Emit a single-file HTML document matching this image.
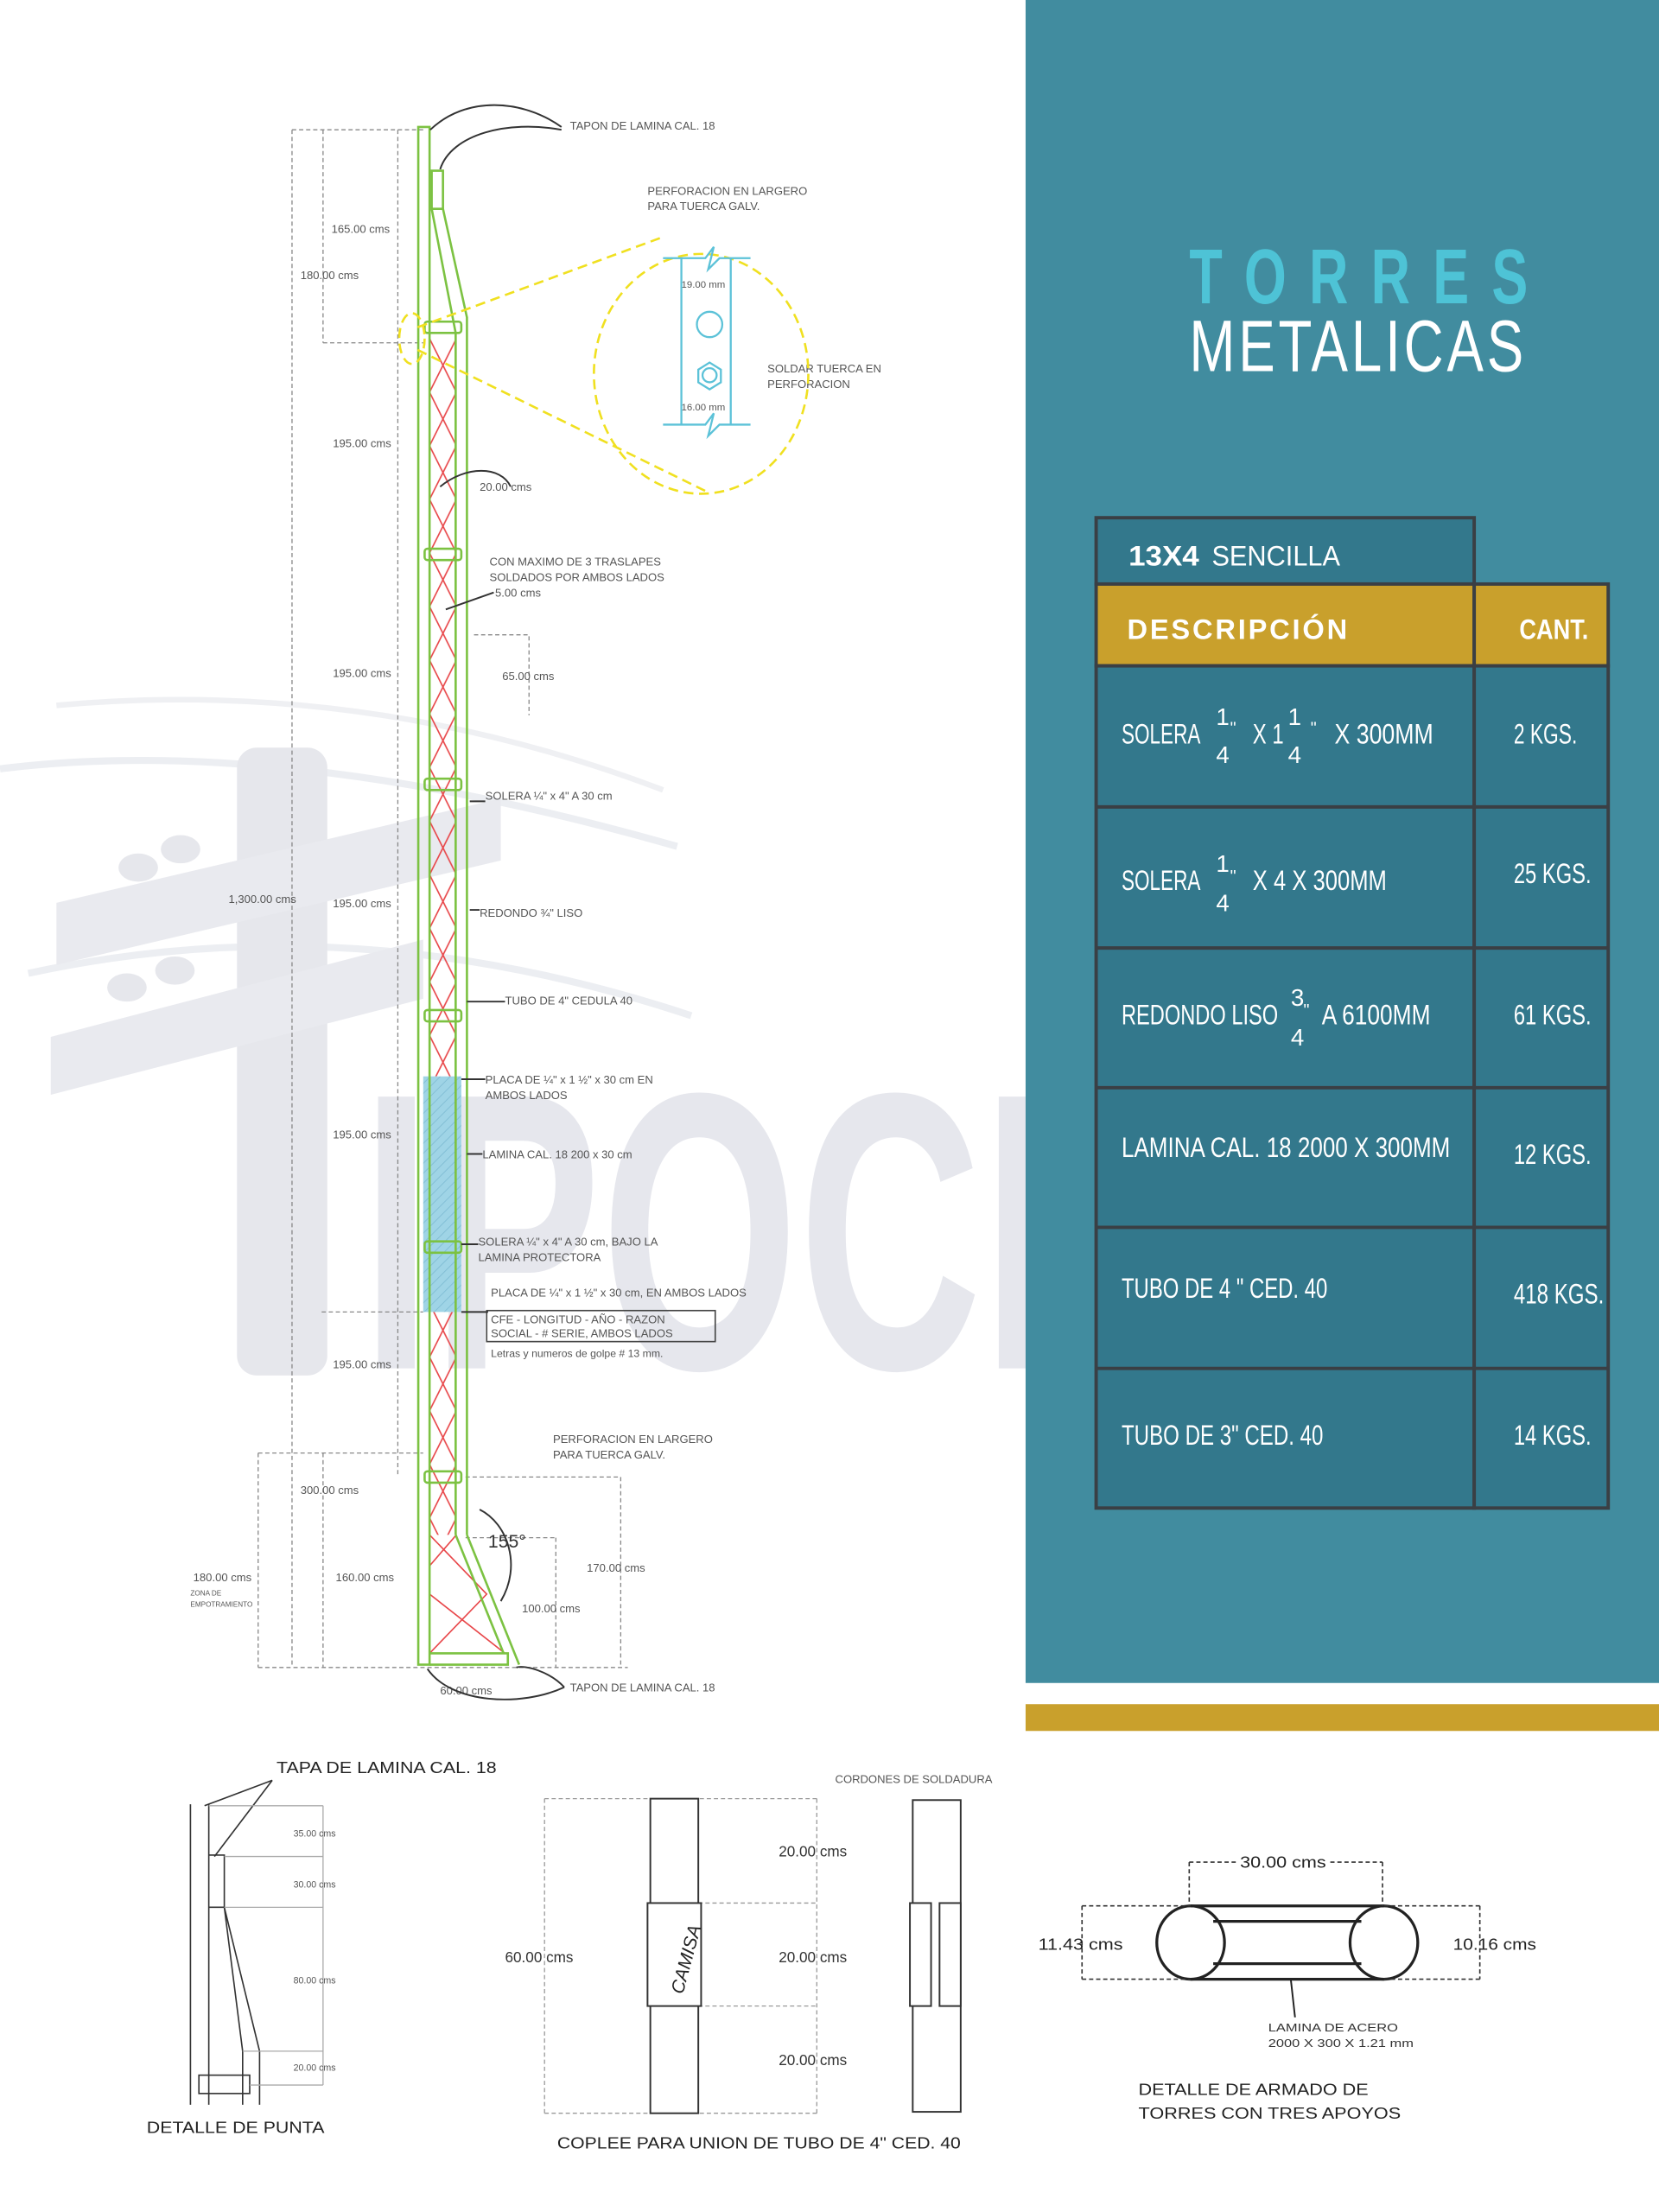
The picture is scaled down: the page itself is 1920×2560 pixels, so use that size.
<!DOCTYPE html>
<html><head><meta charset="utf-8"><style>
html,body{margin:0;padding:0;background:#fff}
svg{display:block}
.t{font-family:"Liberation Sans",sans-serif}
.n{font-family:"Liberation Sans",sans-serif;fill:#fff}
</style></head><body>
<svg width="1920" height="2560" viewBox="0 0 1176 1568" preserveAspectRatio="none" xmlns="http://www.w3.org/2000/svg">
<defs>
<pattern id="lace" patternUnits="userSpaceOnUse" x="304.5" y="240" width="19" height="38">
<path d="M0 0L19 38M19 0L0 38" stroke="#e8474a" stroke-width="1"/>
</pattern>
<pattern id="hatch" patternUnits="userSpaceOnUse" width="5" height="5" patternTransform="rotate(45)">
<rect width="5" height="5" fill="#9fd4e6"/><path d="M0 0V5" stroke="#7dbbd2" stroke-width="1"/>
</pattern>
</defs>
<rect width="1176" height="1568" fill="#fff"/>

<!-- watermark -->
<g fill="#e6e7ec">
<path d="M0 545 Q200 520 480 600" stroke="#eceef2" stroke-width="5" fill="none"/>
<path d="M20 690 Q250 640 490 720" stroke="#eceef2" stroke-width="5" fill="none"/>
<path d="M40 500 Q260 480 470 560" stroke="#eff0f3" stroke-width="4" fill="none"/>
<rect x="168" y="530" width="64" height="445" rx="14"/>
<polygon points="40,640 355,566 355,610 40,684" fill="#e9eaef"/>
<polygon points="36,735 300,666 300,708 36,776" fill="#e9eaef"/>
<ellipse cx="98" cy="615" rx="14" ry="10"/><ellipse cx="128" cy="602" rx="14" ry="10"/>
<ellipse cx="90" cy="700" rx="14" ry="10"/><ellipse cx="124" cy="688" rx="14" ry="10"/>
<text x="256" y="970" font-family="Liberation Sans,sans-serif" font-weight="bold" font-size="280" textLength="560" lengthAdjust="spacingAndGlyphs" fill="#e6e7ed">IPOCE</text>
</g>

<!-- dimension lines -->
<g stroke="#888" stroke-width="0.8" stroke-dasharray="3,2" fill="none">
<path d="M207 92V1182M229 92V243M282 92V1047M207 92H300M229 243H300"/>
<path d="M183 1030V1182M229 1030V1182M183 1030H300M183 1182H445"/>
<path d="M440 1047V1182M394 1090V1182M330 1047H440M330 1090H394"/>
<path d="M336 450H375V507"/>
<path d="M228 930H300"/>
</g>
<g class="t" fill="#555" font-size="8">
<text x="235" y="165">165.00 cms</text>
<text x="213" y="198">180.00 cms</text>
<text x="236" y="317">195.00 cms</text>
<text x="236" y="480">195.00 cms</text>
<text x="162" y="640">1,300.00 cms</text>
<text x="236" y="643">195.00 cms</text>
<text x="236" y="807">195.00 cms</text>
<text x="236" y="970">195.00 cms</text>
<text x="213" y="1059">300.00 cms</text>
<text x="137" y="1121">180.00 cms</text>
<text x="135" y="1131" font-size="5">ZONA DE</text>
<text x="135" y="1139" font-size="5">EMPOTRAMIENTO</text>
<text x="238" y="1121">160.00 cms</text>
<text x="416" y="1114">170.00 cms</text>
<text x="370" y="1143">100.00 cms</text>
<text x="312" y="1201">60.00 cms</text>
<text x="356" y="482">65.00 cms</text>
<text x="340" y="348">20.00 cms</text>
<text x="351" y="423">5.00 cms</text>
<text x="404" y="92">TAPON DE LAMINA CAL. 18</text>
<text x="459" y="138">PERFORACION EN LARGERO</text>
<text x="459" y="149">PARA TUERCA GALV.</text>
<text x="544" y="264">SOLDAR TUERCA EN</text>
<text x="544" y="275">PERFORACION</text>
<text x="483" y="204" font-size="7">19.00 mm</text>
<text x="483" y="291" font-size="7">16.00 mm</text>
<text x="347" y="401">CON MAXIMO DE 3 TRASLAPES</text>
<text x="347" y="412">SOLDADOS POR AMBOS LADOS</text>
<text x="344" y="567">SOLERA ¼" x 4"  A  30 cm</text>
<text x="340" y="650">REDONDO ¾" LISO</text>
<text x="358" y="712">TUBO DE 4" CEDULA 40</text>
<text x="344" y="768">PLACA DE ¼" x 1 ½" x 30 cm EN</text>
<text x="344" y="779">AMBOS LADOS</text>
<text x="342" y="821">LAMINA CAL. 18    200 x 30 cm</text>
<text x="339" y="883">SOLERA ¼" x 4"  A  30 cm, BAJO LA</text>
<text x="339" y="894">LAMINA PROTECTORA</text>
<text x="348" y="919">PLACA DE ¼" x 1 ½" x 30 cm, EN AMBOS LADOS</text>
<text x="348" y="938">CFE - LONGITUD - AÑO - RAZON</text>
<text x="348" y="948">SOCIAL - # SERIE, AMBOS LADOS</text>
<text x="348" y="962" font-size="7.5">Letras y numeros de golpe # 13 mm.</text>
<text x="392" y="1023">PERFORACION EN LARGERO</text>
<text x="392" y="1034">PARA TUERCA GALV.</text>
<text x="404" y="1199">TAPON DE LAMINA CAL. 18</text>
<text x="346" y="1097" font-size="13" fill="#333">155°</text>
</g>
<rect x="345" y="929" width="162" height="22" fill="none" stroke="#444" stroke-width="1"/>

<!-- tower -->
<rect x="304.5" y="240" width="19" height="523" fill="url(#lace)"/>
<rect x="304.5" y="930" width="19" height="158" fill="url(#lace)"/>
<g stroke="#e8474a" stroke-width="1" fill="none">
<path d="M304.5 1088L345 1130L304.5 1172M323.5 1088L304.5 1110M304.5 1130L358 1172"/>
</g>
<rect x="300" y="763" width="27" height="167" fill="url(#hatch)"/>
<g stroke="#7cc242" stroke-width="1.6" fill="none">
<rect x="296.5" y="90" width="8" height="1090"/>
<path d="M306 121V148H314V121Z"/>
<path d="M306 148L323 236V1088M314 148L331 225V1088"/>
<path d="M323 1088L357 1172M331 1088L368 1180"/>
<path d="M304.5 1172H360V1180H304.5"/>
<rect x="301" y="228" width="26" height="8" rx="2"/>
<rect x="301" y="389" width="26" height="8" rx="2"/>
<rect x="301" y="552" width="26" height="8" rx="2"/>
<rect x="301" y="716" width="26" height="8" rx="2"/>
<rect x="301" y="880" width="26" height="8" rx="2"/>
<rect x="301" y="1043" width="26" height="8" rx="2"/>
</g>
<g stroke="#333" stroke-width="1.2" fill="none">
<path d="M398 90C370 70 330 68 305 92"/>
<path d="M398 92C360 85 320 95 312 120"/>
<path d="M400 1196C370 1210 320 1208 303 1183"/>
<path d="M400 1196C390 1185 372 1180 366 1182"/>
<path d="M312 345C330 330 355 330 362 345"/>
<path d="M340 1070C360 1080 370 1110 355 1135"/>
<path d="M333 568H344M333 645H340M331 710H358M327 765H344M331 818H342M327 882H339M327 930H346"/>
<path d="M350 420L316 432"/>
</g>
<g stroke="#f0e020" stroke-width="1.6" stroke-dasharray="7,4" fill="none">
<ellipse cx="497" cy="265" rx="76" ry="85"/>
<path d="M296 232L470 168M296 248L500 348"/>
<ellipse cx="292" cy="240" rx="9" ry="18"/>
</g>
<g stroke="#5cc2d8" stroke-width="1.4" fill="none">
<path d="M470 183H500L506 175L502 191L510 183H532M470 301H500L506 293L502 309L510 301H532"/>
<path d="M483 183V301M518 183V301"/>
<circle cx="503" cy="230" r="9"/>
<polygon points="503,257 511,262 511,271 503,276 495,271 495,262"/>
<circle cx="503" cy="266" r="5"/>
</g>

<!-- teal panel -->
<rect x="727" y="0" width="449" height="1193" fill="#418c9f"/>
<rect x="727" y="1208" width="449" height="19" fill="#c9a02c"/>
<text transform="translate(843 215) scale(0.7 1)" class="n" font-weight="bold" font-size="55" textLength="343" fill="#4ec3d6" style="fill:#4ec3d6">TORRES</text>
<text transform="translate(843 263) scale(0.75 1)" class="n" font-size="52" textLength="316" lengthAdjust="spacing">METALICAS</text>

<!-- table -->
<g stroke="#3a3f44" stroke-width="2.4">
<rect x="777" y="367" width="268" height="47" fill="#33788c"/>
<rect x="777" y="414" width="268" height="58" fill="#c9a02c"/>
<rect x="1045" y="414" width="95" height="58" fill="#c9a02c"/>
<rect x="777" y="472" width="268" height="597" fill="#33788c"/>
<rect x="1045" y="472" width="95" height="597" fill="#33788c"/>
<path d="M777 572H1140M777 672H1140M777 771H1140M777 870H1140M777 970H1140"/>
</g>
<g class="n" font-size="20">
<text x="800" y="401" font-weight="bold" textLength="50" lengthAdjust="spacingAndGlyphs">13X4</text>
<text x="859" y="401" textLength="91" lengthAdjust="spacingAndGlyphs">SENCILLA</text>
<text x="799" y="453" font-weight="bold" textLength="156" lengthAdjust="spacing">DESCRIPCIÓN</text>
<text x="1077" y="453" font-weight="bold" textLength="49" lengthAdjust="spacingAndGlyphs">CANT.</text>
</g>
<g class="n" font-size="20">
<text x="795" y="527" textLength="56" lengthAdjust="spacingAndGlyphs">SOLERA</text>
<text x="862" y="514" font-size="17">1</text><text x="862" y="541" font-size="17">4</text><text x="872" y="520" font-size="12">"</text>
<text x="888" y="527" textLength="22" lengthAdjust="spacingAndGlyphs">X 1</text>
<text x="913" y="514" font-size="17">1</text><text x="913" y="541" font-size="17">4</text><text x="929" y="520" font-size="12">"</text>
<text x="946" y="527" textLength="70" lengthAdjust="spacingAndGlyphs">X 300MM</text>
<text x="1073" y="527" textLength="45" lengthAdjust="spacingAndGlyphs">2 KGS.</text>

<text x="795" y="631" textLength="56" lengthAdjust="spacingAndGlyphs">SOLERA</text>
<text x="862" y="618" font-size="17">1</text><text x="862" y="646" font-size="17">4</text><text x="872" y="625" font-size="12">"</text>
<text x="888" y="631" textLength="95" lengthAdjust="spacingAndGlyphs">X 4 X 300MM</text>
<text x="1073" y="626" textLength="55" lengthAdjust="spacingAndGlyphs">25 KGS.</text>

<text x="795" y="726" textLength="111" lengthAdjust="spacingAndGlyphs">REDONDO LISO</text>
<text x="915" y="713" font-size="17">3</text><text x="915" y="741" font-size="17">4</text><text x="924" y="720" font-size="12">"</text>
<text x="937" y="726" textLength="77" lengthAdjust="spacingAndGlyphs">A 6100MM</text>
<text x="1073" y="726" textLength="55" lengthAdjust="spacingAndGlyphs">61 KGS.</text>

<text x="795" y="820" textLength="233" lengthAdjust="spacingAndGlyphs">LAMINA CAL. 18 2000 X 300MM</text>
<text x="1073" y="825" textLength="55" lengthAdjust="spacingAndGlyphs">12 KGS.</text>

<text x="795" y="920" textLength="146" lengthAdjust="spacingAndGlyphs">TUBO DE 4 " CED. 40</text>
<text x="1073" y="924" textLength="64" lengthAdjust="spacingAndGlyphs">418 KGS.</text>

<text x="795" y="1024" textLength="143" lengthAdjust="spacingAndGlyphs">TUBO DE 3" CED. 40</text>
<text x="1073" y="1024" textLength="55" lengthAdjust="spacingAndGlyphs">14 KGS.</text>
</g>

<!-- bottom: detalle de punta -->
<g stroke="#333" stroke-width="1" fill="none">
<path d="M135 1279V1492M148 1279V1492M148 1315H159V1352L172 1454V1492M148 1352L159 1352M159 1352L184 1454V1492"/>
<rect x="141" y="1471" width="36" height="13"/>
<path d="M193 1262L145 1280M193 1262L152 1316"/>
</g>
<g stroke="#aaa" stroke-width="0.8" fill="none">
<path d="M148 1280H229M159 1316H229M159 1352H229M172 1454H229M177 1478H229M229 1280V1478"/>
</g>
<g class="t" font-size="6.5" fill="#555">
<text x="208" y="1302">35.00 cms</text><text x="208" y="1338">30.00 cms</text>
<text x="208" y="1406">80.00 cms</text><text x="208" y="1468">20.00 cms</text>
</g>
<g class="t" font-size="11.5" fill="#222">
<text x="196" y="1257" textLength="156" lengthAdjust="spacingAndGlyphs">TAPA DE LAMINA CAL. 18</text>
<text x="104" y="1512" textLength="126" lengthAdjust="spacingAndGlyphs">DETALLE DE PUNTA</text>
</g>

<!-- coplee -->
<g stroke="#999" stroke-width="0.8" stroke-dasharray="3,2" fill="none">
<path d="M386 1275V1498M579 1275V1498M386 1275H579M495 1349H579M495 1422H579M386 1498H579"/>
</g>
<g stroke="#333" stroke-width="1.2" fill="none">
<rect x="461" y="1275" width="34" height="223"/>
<rect x="459" y="1349" width="38" height="73" fill="#fff"/>
<rect x="647" y="1276" width="34" height="221"/>
<rect x="645" y="1349" width="15" height="73" fill="#fff"/>
<rect x="666" y="1349" width="15" height="73" fill="#fff"/>
</g>
<text transform="translate(484 1414) rotate(-75)" class="t" font-size="13" fill="#222" font-style="italic">CAMISA</text>
<g class="t" font-size="10.5" fill="#333">
<text x="552" y="1316">20.00 cms</text><text x="552" y="1391">20.00 cms</text><text x="552" y="1464">20.00 cms</text>
<text x="358" y="1391">60.00 cms</text>
</g>
<text x="592" y="1264" class="t" font-size="8" fill="#555">CORDONES DE SOLDADURA</text>
<rect x="721" y="1254" width="6" height="14" fill="#fff"/>
<text x="395" y="1523" class="t" font-size="11.5" fill="#222" textLength="286" lengthAdjust="spacingAndGlyphs">COPLEE PARA UNION DE TUBO DE 4" CED. 40</text>

<!-- armado -->
<g stroke="#222" stroke-width="2" fill="none">
<ellipse cx="844" cy="1377" rx="24" ry="26"/>
<ellipse cx="981" cy="1377" rx="24" ry="26"/>
<path d="M844 1351H981M844 1403H981M860 1362H965M860 1392H965"/>
</g>
<g stroke="#333" stroke-width="1" stroke-dasharray="3,2" fill="none">
<path d="M843 1320H980M843 1320V1351M980 1320V1351M767 1351V1403M767 1351H844M767 1403H844M1049 1351V1403M981 1351H1049M981 1403H1049"/>
</g>
<path d="M915 1403L918 1430" stroke="#222" stroke-width="1.2"/>
<rect x="877" y="1312" width="65" height="14" fill="#fff"/>
<g class="t" font-size="11.5" fill="#222">
<text x="879" y="1324" textLength="61" lengthAdjust="spacingAndGlyphs">30.00 cms</text>
<text x="736" y="1382" textLength="60" lengthAdjust="spacingAndGlyphs">11.43 cms</text>
<text x="1030" y="1382" textLength="59" lengthAdjust="spacingAndGlyphs">10.16 cms</text>
<text x="807" y="1485" textLength="163" lengthAdjust="spacingAndGlyphs">DETALLE DE ARMADO DE</text>
<text x="807" y="1502" textLength="186" lengthAdjust="spacingAndGlyphs">TORRES CON TRES APOYOS</text>
</g>
<g class="t" font-size="8" fill="#333">
<text x="899" y="1440" textLength="92" lengthAdjust="spacingAndGlyphs">LAMINA DE ACERO</text>
<text x="899" y="1451" textLength="103" lengthAdjust="spacingAndGlyphs">2000 X 300 X 1.21 mm</text>
</g>
</svg>
</body></html>
